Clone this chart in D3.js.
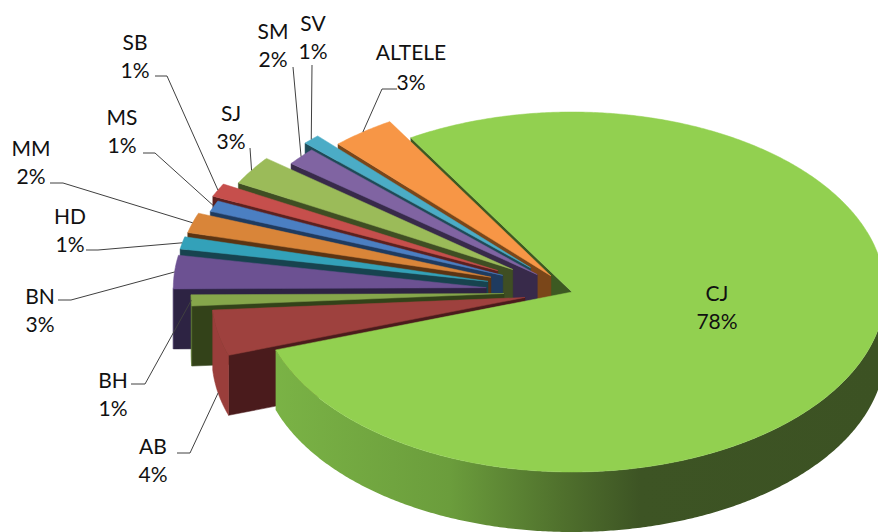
<!DOCTYPE html>
<html><head><meta charset="utf-8">
<script src="https://cdn.jsdelivr.net/npm/d3@7"></script>
<style>body{margin:0;background:#fff}</style>
</head><body>
<svg id="chart" width="878" height="532"></svg>
<script>
// ---- data ----
const categories = ["CJ","AB","BH","BN","HD","MM","MS","SB","SJ","SM","SV","ALTELE"];
const values     = [78.4, 4.1, 1.0, 3.0, 1.1, 1.8, 1.0, 1.2, 2.6, 1.6, 0.9, 3.3];

// ---- style ----
const topColors  = ["#92D050","#9E413E","#86A64B","#6C5192","#33A1B9","#D98539","#4B7FC2","#C64F4C","#9BBB59","#8064A2","#4BACC6","#F79646"];
const wallColors = ["#3D5A22","#4A1B1C","#334219","#2D2343","#17434F","#5B3413","#1F3B5F","#5C201F","#3F4E23","#382A4A","#1F4A57","#7A4619"];
const sideColors = ["url(#cjSide)","#9A3E3B","#5C7634","#4B3A68","#2A8296","#B06A2A","#3C66A0","#A03F3D","#7D9848","#664F84","#3A8CA2","#C87636"];
const explode    = [0,48,68,86,86,85,75,83,71,46,59,35];
const labelLayout = [
  {name:[717,293], lead:null},
  {name:[153,446], lead:[[177,453],[190,453]], z:1},
  {name:[113,380], lead:[[131,384],[145,384]]},
  {name:[40,296],  lead:[[58,300],[71,300]]},
  {name:[70,216],  lead:[[86,250],[98,250]]},
  {name:[31,148],  lead:[[50,183],[63,183]]},
  {name:[122,117], lead:[[143,153],[155,153]]},
  {name:[135,42],  lead:[[155,76],[167,76]]},
  {name:[231,113], lead:[[250,148]]},
  {name:[273,31],  lead:[[293,67]]},
  {name:[313,23],  lead:[[312,65]]},
  {name:[411,52],  lead:[[397,89],[382,89]], pdy:30}
];

const cx = 572, cy = 292, rx = 313, ry = 180, depth = 60;
const tilt = ry / rx;
const firstAngleDeg = -121; // screen angle (clockwise from 3 o'clock) where first slice starts

const svg = d3.select("#chart");
const defs = svg.append("defs");
const g1 = defs.append("linearGradient").attr("id","cjSide")
  .attr("gradientUnits","userSpaceOnUse").attr("x1",265).attr("x2",880).attr("y1",0).attr("y2",0);
[[0,"#7BB446"],[0.3,"#6B9D3C"],[0.48,"#50712D"],[0.61,"#3D5424"],[1,"#3C5223"]]
  .forEach(s => g1.append("stop").attr("offset",s[0]).attr("stop-color",s[1]));

// pie layout (d3 angles measured clockwise from 12 o'clock)
const pie = d3.pie().sort(null).value(d => d.v)
  .startAngle((firstAngleDeg + 90) * Math.PI / 180)
  .endAngle((firstAngleDeg + 90) * Math.PI / 180 + 2 * Math.PI);
const arcs = pie(categories.map((c, i) => ({c, v: values[i], i})));
const slices = arcs.map((a, i) => {
  const a0 = a.startAngle - Math.PI / 2, a1 = a.endAngle - Math.PI / 2, mid = (a0 + a1) / 2;
  return {i, a0, a1, mid, ox: cx + explode[i] * Math.cos(mid), oy: cy + explode[i] * tilt * Math.sin(mid)};
});

const px = d3.scaleLinear().domain([-1, 1]).range([-rx, rx]);
const py = d3.scaleLinear().domain([-1, 1]).range([-ry, ry]);
function pt(s, a, r, z) {
  return [s.ox + px(r * Math.cos(a)), s.oy + py(r * Math.sin(a)) + z];
}
function arcPts(s, from, to, z) {
  const n = Math.max(2, Math.ceil(Math.abs(to - from) / (Math.PI / 360)));
  return d3.range(n + 1).map(k => pt(s, from + (to - from) * k / n, 1, z));
}
const line = d3.line();

function drawRadialWalls(s) {
  const faces = [];
  if (Math.cos(s.a0) < 0) faces.push(s.a0);
  if (Math.cos(s.a1) > 0) faces.push(s.a1);
  faces.forEach(a => {
    const p = [pt(s, a, 0, 0), pt(s, a, 1, 0), pt(s, a, 1, depth), pt(s, a, 0, depth)];
    svg.append("path").attr("d", line(p) + "Z").attr("fill", wallColors[s.i])
      .attr("stroke", wallColors[s.i]).attr("stroke-width", 0.5);
  });
}
function drawOuterWall(s) {
  for (let k = -1; k <= 2; k++) {
    const lo = Math.max(s.a0, 2 * Math.PI * k), hi = Math.min(s.a1, 2 * Math.PI * k + Math.PI);
    if (hi > lo) {
      const p = arcPts(s, lo, hi, 0).concat(arcPts(s, hi, lo, depth));
      svg.append("path").attr("d", line(p) + "Z").attr("fill", sideColors[s.i])
        .attr("stroke", s.i === 0 ? "none" : sideColors[s.i]).attr("stroke-width", 0.5);
    }
  }
}
function drawTop(s) {
  const p = [pt(s, 0, 0, 0)].concat(arcPts(s, s.a0, s.a1, 0));
  svg.append("path").attr("d", line(p) + "Z").attr("fill", topColors[s.i])
    .attr("stroke", topColors[s.i]).attr("stroke-width", 0.5);
}

// painter's order: big slice back wall, small slices back→front, then big slice
drawRadialWalls(slices[0]);
for (let i = slices.length - 1; i >= 1; i--) {
  drawRadialWalls(slices[i]);
  drawOuterWall(slices[i]);
  drawTop(slices[i]);
}
drawOuterWall(slices[0]);
drawTop(slices[0]);

// labels & leader lines
const font = "Lato, 'Open Sans', sans-serif";
slices.forEach(s => {
  const L = labelLayout[s.i];
  if (L.lead) {
    const end = pt(s, s.mid, 1, (L.z || 0) * depth);
    svg.append("path").attr("d", line(L.lead.concat([end]))).attr("fill","none")
      .attr("stroke","#404040").attr("stroke-width",1);
  }
  const pct = Math.round(values[s.i] / d3.sum(values) * 100) + "%";
  [[categories[s.i], 0], [pct, L.pdy || 28.5]].forEach(([txt, dy]) => {
    svg.append("text").attr("x", L.name[0]).attr("y", L.name[1] + dy).attr("dy","0.36em")
      .attr("text-anchor","middle").attr("font-family", font).attr("font-size", 21)
      .attr("fill","#111").text(txt);
  });
});
</script>
</body></html>
